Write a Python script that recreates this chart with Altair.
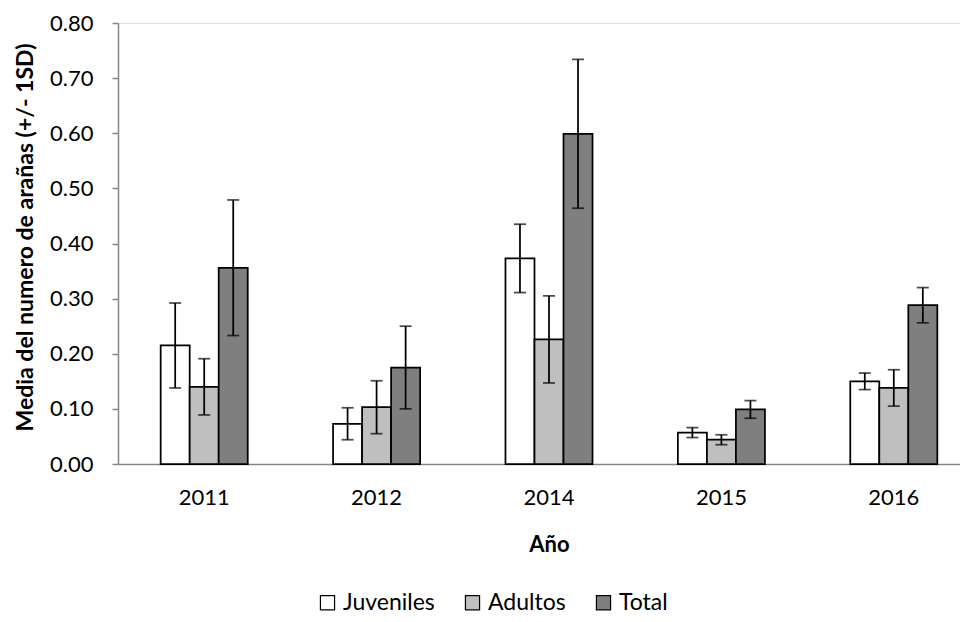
import altair as alt
import pandas as pd

years = ["2011", "2012", "2014", "2015", "2016"]
series = ["Juveniles", "Adultos", "Total"]
juveniles = [0.215, 0.073, 0.373, 0.057, 0.150]
juveniles_sd = [0.077, 0.029, 0.062, 0.009, 0.015]
adultos = [0.140, 0.103, 0.226, 0.044, 0.138]
adultos_sd = [0.051, 0.048, 0.079, 0.009, 0.033]
total = [0.356, 0.175, 0.599, 0.099, 0.288]
total_sd = [0.123, 0.075, 0.135, 0.016, 0.032]
colors = ["#ffffff", "#bfbfbf", "#7f7f7f"]

rows = []
for name, vals, sds in [("Juveniles", juveniles, juveniles_sd),
                        ("Adultos", adultos, adultos_sd),
                        ("Total", total, total_sd)]:
    for y, v, s in zip(years, vals, sds):
        rows.append({"year": y, "serie": name, "mean": v, "sd": s})
df = pd.DataFrame(rows)

FONT = "Lato"

base = alt.Chart(df).transform_calculate(
    lo="datum.mean - datum.sd", hi="datum.mean + datum.sd"
).encode(
    x=alt.X("year:N", sort=years,
            scale=alt.Scale(range=[0, 862], paddingInner=0.495, paddingOuter=0.2475),
            axis=alt.Axis(title="Año", labelAngle=0, ticks=False, tickSize=0,
                          labelPadding=23, labelFontSize=22, labelColor="#000000",
                          titleFontSize=22, titleFontWeight="bold", titleColor="#000000",
                          titlePadding=26, domainColor="#868686", domainWidth=1.5)),
    xOffset=alt.XOffset("serie:N", sort=series,
                        scale=alt.Scale(paddingInner=0, paddingOuter=0)),
)

bars = base.mark_bar(stroke="black", strokeWidth=1.75).encode(
    y=alt.Y("mean:Q", scale=alt.Scale(domain=[0, 0.8], nice=False),
            axis=alt.Axis(title="Media del numero de arañas (+/- 1SD)",
                          values=[0, 0.1, 0.2, 0.3, 0.4, 0.5, 0.6, 0.7, 0.8],
                          format=".2f", grid=False, tickSize=6, tickColor="#868686",
                          tickWidth=1.5, labelPadding=19, labelFontSize=22,
                          labelColor="#000000", domainColor="#868686", domainWidth=1.5,
                          titleFontSize=23, titleFontWeight="bold", titleColor="#000000",
                          titleX=-93, titleY=214, titleAngle=-90, titleAlign="center",
                          titleBaseline="middle")),
    fill=alt.Fill("serie:N", sort=series,
                  scale=alt.Scale(domain=series, range=colors),
                  legend=alt.Legend(title=None, orient="none", direction="horizontal",
                                    legendX=198, legendY=568, symbolType="square",
                                    symbolSize=200, symbolStrokeColor="black",
                                    symbolStrokeWidth=1.2, labelFontSize=23,
                                    labelColor="#000000", columnPadding=26,
                                    labelOffset=4)),
)

rules = base.mark_rule(color="black", strokeWidth=1.75).encode(
    y="lo:Q", y2="hi:Q"
)
cap_hi = base.mark_tick(color="black", thickness=1.75, size=12).encode(y="hi:Q")
cap_lo = base.mark_tick(color="black", thickness=1.75, size=12).encode(y="lo:Q")

chart = alt.layer(bars, rules, cap_hi, cap_lo).properties(
    width=842, height=441,
    autosize=alt.AutoSizeParams(type="none"),
    padding={"left": 110, "top": 15, "right": 0, "bottom": 150},
).configure_view(stroke=None).configure(font=FONT)

chart.save("out.html", embed_options={"renderer": "svg", "actions": False})
